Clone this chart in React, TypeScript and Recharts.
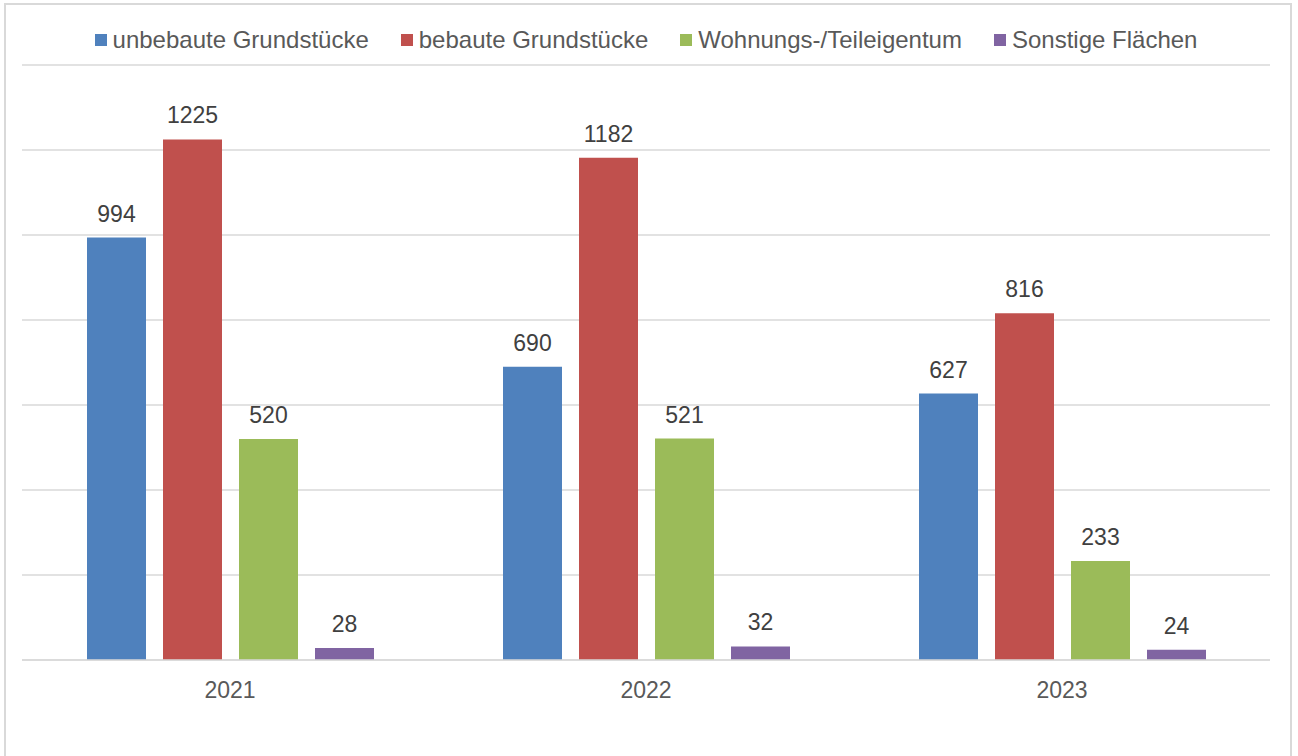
import React from "react";
import {
  BarChart,
  Bar,
  XAxis,
  YAxis,
  CartesianGrid,
  Legend,
  LabelList,
} from "recharts";

const years = ["2021", "2022", "2023"];
const unbebaut = [994, 690, 627];
const bebaut = [1225, 1182, 816];
const wohnung = [520, 521, 233];
const sonstige = [28, 32, 24];
const yTicks = [0, 200, 400, 600, 800, 1000, 1200, 1400];

const SERIES = [
  { key: "unbebaut", name: "unbebaute Grundstücke", color: "#4F81BD" },
  { key: "bebaut", name: "bebaute Grundstücke", color: "#C0504D" },
  { key: "wohnung", name: "Wohnungs-/Teileigentum", color: "#9BBB59" },
  { key: "sonstige", name: "Sonstige Flächen", color: "#8064A2" },
];

const data = years.map((year, i) => ({
  year,
  unbebaut: unbebaut[i],
  bebaut: bebaut[i],
  wohnung: wohnung[i],
  sonstige: sonstige[i],
}));

const FONT = "'Liberation Sans', Arial, sans-serif";

function renderLegend() {
  return (
    <div
      style={{
        display: "flex",
        justifyContent: "center",
        fontFamily: FONT,
        fontSize: 24,
        color: "#595959",
        lineHeight: "28px",
      }}
    >
      {SERIES.map((s) => (
        <div
          key={s.key}
          style={{ display: "flex", alignItems: "center", margin: "0 16px" }}
        >
          <span
            style={{
              width: 12,
              height: 12,
              background: s.color,
              display: "inline-block",
              marginRight: 6,
            }}
          />
          {s.name}
        </div>
      ))}
    </div>
  );
}

export default function App() {
  return (
    <div
      style={{
        position: "absolute",
        left: 0,
        top: 0,
        width: 1298,
        height: 756,
        background: "#fff",
        overflow: "hidden",
      }}
    >
      <div
        style={{
          position: "absolute",
          left: 4,
          top: 3,
          width: 1284,
          height: 800,
          border: "2px solid #d9d9d9",
        }}
      />
      <div style={{ position: "absolute", left: 0, top: 0 }}>
        <BarChart
          width={1298}
          height={756}
          data={data}
          margin={{ top: 37, right: 28, left: 22, bottom: 56 }}
          barSize={59}
          barGap={17}
        >
          <CartesianGrid
            vertical={false}
            stroke="#d9d9d9"
            strokeWidth={1.5}
          />
          <YAxis hide domain={[0, 1400]} ticks={yTicks} width={0} />
          <XAxis
            dataKey="year"
            height={40}
            tickLine={false}
            axisLine={{ stroke: "#d9d9d9", strokeWidth: 1.5 }}
            tick={{ fill: "#595959", fontSize: 23, fontFamily: FONT }}
            tickMargin={16}
          />
          <Legend verticalAlign="top" content={renderLegend} wrapperStyle={{ top: 26 }} />
          {SERIES.map((s) => (
            <Bar
              key={s.key}
              dataKey={s.key}
              name={s.name}
              fill={s.color}
              isAnimationActive={false}
            >
              <LabelList
                dataKey={s.key}
                position="top"
                offset={16}
                fill="#404040"
                fontSize={23}
                fontFamily={FONT}
              />
            </Bar>
          ))}
        </BarChart>
      </div>
    </div>
  );
}
